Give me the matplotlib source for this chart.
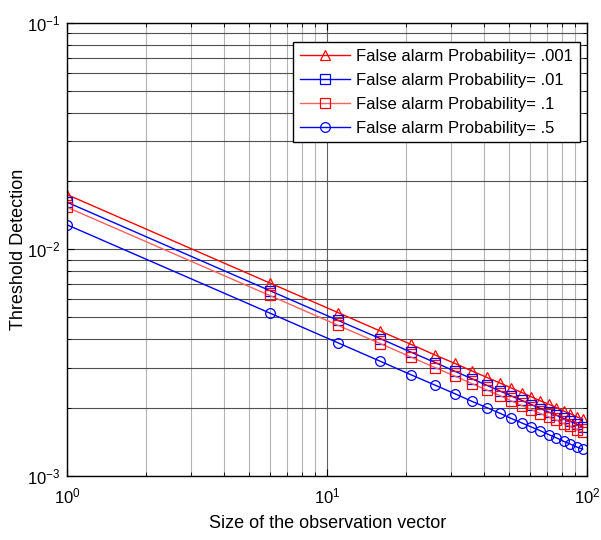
import matplotlib.pyplot as plt

# observation vector sizes (markers every 5 samples)
sizes = [1, 6, 11, 16, 21, 26, 31, 36, 41, 46, 51, 56, 61, 66, 71, 76, 81, 86, 91, 96]

# threshold values
pfa_0001 = [0.0174, 0.00710, 0.00525, 0.00435, 0.00380, 0.00341, 0.00313, 0.00290, 0.00272, 0.00257,
            0.00244, 0.00233, 0.00223, 0.00214, 0.00207, 0.00200, 0.00193, 0.00188, 0.00182, 0.00178]
pfa_001 = [0.0161, 0.00657, 0.00485, 0.00403, 0.00351, 0.00316, 0.00289, 0.00268, 0.00251, 0.00237,
           0.00225, 0.00215, 0.00206, 0.00198, 0.00191, 0.00185, 0.00179, 0.00174, 0.00169, 0.00164]
pfa_01 = [0.0153, 0.00625, 0.00461, 0.00383, 0.00334, 0.00300, 0.00275, 0.00255, 0.00239, 0.00226,
          0.00214, 0.00204, 0.00196, 0.00188, 0.00182, 0.00176, 0.00170, 0.00165, 0.00160, 0.00156]
pfa_05 = [0.0128, 0.00523, 0.00386, 0.00320, 0.00279, 0.00251, 0.00230, 0.00213, 0.00200, 0.00189,
          0.00179, 0.00171, 0.00164, 0.00158, 0.00152, 0.00147, 0.00142, 0.00138, 0.00134, 0.00131]

labels = ["False alarm Probability= .001", "False alarm Probability= .01",
          "False alarm Probability= .1", "False alarm Probability= .5"]

plt.rcParams["font.family"] = ["Liberation Sans", "DejaVu Sans"]
plt.rcParams["mathtext.fontset"] = "custom"
plt.rcParams["mathtext.rm"] = "Liberation Sans"

fig = plt.figure(figsize=(6.01, 5.4), dpi=100)
ax = fig.add_axes([0.112, 0.119, 0.8652, 0.839])

style = dict(markerfacecolor="none", markersize=7, linewidth=1.0, markeredgewidth=0.9)
ax.loglog(sizes, pfa_0001, color="#ff0000", marker="^", label=labels[0], **style)
ax.loglog(sizes, pfa_001, color="#0000ff", marker="s", label=labels[1], **style)
ax.loglog(sizes, pfa_01, color="#ff6060", marker="s", markeredgecolor="#ff0000",
          label=labels[2], **style)
ax.loglog(sizes, pfa_05, color="#0000ff", marker="o", label=labels[3], **style)

ax.set_xlim(1, 100)
ax.set_ylim(1e-3, 1e-1)

# MATLAB-like grid: darker horizontals, light vertical minors
ax.yaxis.grid(True, which="both", color="#505050", linewidth=0.8)
ax.xaxis.grid(True, which="major", color="#606060", linewidth=0.8)
ax.xaxis.grid(True, which="minor", color="#b4b4b4", linewidth=0.8)
ax.set_axisbelow(True)

ax.tick_params(which="both", direction="in", top=True, right=True, labelsize=12)
ax.tick_params(which="major", length=5)
ax.tick_params(which="minor", length=3)
ax.tick_params(axis="x", pad=8)
ax.tick_params(axis="y", pad=5)
for s in ax.spines.values():
    s.set_linewidth(1.0)

ax.set_xlabel("Size of the observation vector", fontsize=13, labelpad=6)
ax.set_ylabel("Threshold Detection", fontsize=13, labelpad=0)

leg = ax.legend(loc="upper right", bbox_to_anchor=(0.986, 0.957), fontsize=12,
                handlelength=3.0, handletextpad=0.4, fancybox=False, framealpha=1,
                edgecolor="black", borderpad=0.4, labelspacing=0.54, borderaxespad=0)
leg.get_frame().set_linewidth(1.0)

fig.savefig("out.png", dpi=100)
